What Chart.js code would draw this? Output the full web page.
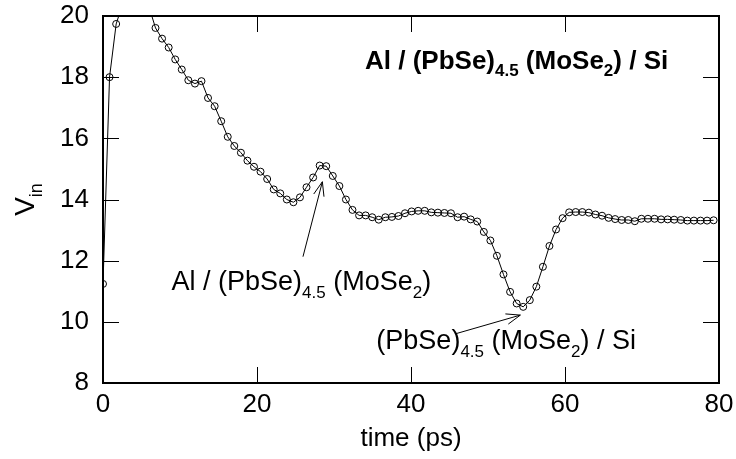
<!doctype html>
<html lang="en">
<head>
<meta charset="utf-8">
<title>Vin vs time</title>
<script src="https://cdn.jsdelivr.net/npm/chart.js"></script>
<style>
  html, body { margin: 0; padding: 0; background: #fff; }
  #wrap { width: 736px; height: 459px; }
</style>
</head>
<body>
<div id="wrap"><canvas id="chart"></canvas></div>
<script>
// time (ps) and V_in
var time = [0, 0.85, 1.71, 2.56, 3.41, 4.26, 5.12, 5.97, 6.82, 7.67,
            8.53, 9.38, 10.23, 11.08, 11.94, 12.79, 13.64, 14.50, 15.35, 16.20,
            17.05, 17.91, 18.76, 19.61, 20.46, 21.32, 22.17, 23.02, 23.87, 24.73,
            25.58, 26.43, 27.29, 28.14, 28.99, 29.84, 30.70, 31.55, 32.40, 33.26,
            34.11, 34.96, 35.81, 36.67, 37.52, 38.37, 39.22, 40.08, 40.93, 41.78,
            42.64, 43.49, 44.34, 45.19, 46.05, 46.90, 47.75, 48.60, 49.46, 50.31,
            51.16, 52.01, 52.87, 53.72, 54.57, 55.43, 56.28, 57.13, 57.98, 58.84,
            59.69, 60.54, 61.39, 62.25, 63.10, 63.95, 64.81, 65.66, 66.51, 67.36,
            68.22, 69.07, 69.92, 70.77, 71.63, 72.48, 73.33, 74.18, 75.04, 75.89,
            76.74, 77.60, 78.45, 79.30];
var vin = [11.24, 18.00, 19.74, 20.4, 20.8, 20.9, 20.7, 20.3, 19.61, 19.26,
           18.97, 18.58, 18.25, 17.90, 17.79, 17.87, 17.32, 17.05, 16.56, 16.05,
           15.75, 15.53, 15.27, 15.07, 14.91, 14.67, 14.33, 14.20, 14.00, 13.91,
           14.07, 14.40, 14.72, 15.11, 15.09, 14.77, 14.44, 14.00, 13.66, 13.48,
           13.48, 13.42, 13.34, 13.42, 13.43, 13.46, 13.55, 13.61, 13.63, 13.63,
           13.58, 13.57, 13.56, 13.55, 13.42, 13.44, 13.35, 13.28, 12.94, 12.66,
           12.16, 11.55, 10.98, 10.60, 10.49, 10.71, 11.15, 11.80, 12.48, 13.02,
           13.39, 13.58, 13.59, 13.59, 13.57, 13.51, 13.47, 13.40, 13.36, 13.33,
           13.33, 13.29, 13.37, 13.37, 13.37, 13.35, 13.35, 13.34, 13.33, 13.31,
           13.31, 13.31, 13.31, 13.32];

var xTicks = [0, 20, 40, 60, 80];
var yTicks = [8, 10, 12, 14, 16, 18, 20];

var FONT = "'Liberation Sans', Arial, Helvetica, sans-serif";

var points = time.map(function (t, i) { return {x: t, y: vin[i]}; });

// draw text with subscripts: parts = [[text, isSub], ...]
function richText(ctx, x, y, parts, size, bold, align) {
    var w = bold ? 'bold ' : '';
    var sub = Math.round(size * 0.64);
    var total = 0;
    parts.forEach(function (p) {
        ctx.font = w + (p[1] ? sub : size) + 'px ' + FONT;
        total += ctx.measureText(p[0]).width;
    });
    var cx = x;
    if (align === 'center') cx = x - total / 2;
    if (align === 'right') cx = x - total;
    ctx.textAlign = 'left';
    ctx.textBaseline = 'alphabetic';
    parts.forEach(function (p) {
        ctx.font = w + (p[1] ? sub : size) + 'px ' + FONT;
        ctx.fillText(p[0], cx, y + (p[1] ? size * 0.28 : 0));
        cx += ctx.measureText(p[0]).width;
    });
}

function arrow(ctx, x0, y0, x1, y1) {
    var a = Math.atan2(y1 - y0, x1 - x0);
    var L = 15, s = 0.36;
    ctx.beginPath();
    ctx.moveTo(x0, y0);
    ctx.lineTo(x1, y1);
    ctx.moveTo(x1 - L * Math.cos(a - s), y1 - L * Math.sin(a - s));
    ctx.lineTo(x1, y1);
    ctx.lineTo(x1 - L * Math.cos(a + s), y1 - L * Math.sin(a + s));
    ctx.stroke();
}

var frame = {
    id: 'frame',
    afterDraw: function (chart) {
        var ctx = chart.ctx, a = chart.chartArea;
        var xs = chart.scales.x, ys = chart.scales.y;
        ctx.save();
        ctx.strokeStyle = '#000';
        ctx.fillStyle = '#000';
        ctx.lineWidth = 1;
        // inward ticks on all four sides
        var tl = 16;
        ctx.beginPath();
        xTicks.forEach(function (v) {
            var px = Math.round(xs.getPixelForValue(v)) + 0.5;
            ctx.moveTo(px, a.bottom); ctx.lineTo(px, a.bottom - tl);
            ctx.moveTo(px, a.top); ctx.lineTo(px, a.top + tl);
        });
        yTicks.forEach(function (v) {
            var py = Math.round(ys.getPixelForValue(v)) + 0.5;
            ctx.moveTo(a.left, py); ctx.lineTo(a.left + tl, py);
            ctx.moveTo(a.right, py); ctx.lineTo(a.right - tl, py);
        });
        ctx.stroke();
        ctx.lineWidth = 2;
        ctx.strokeRect(a.left, a.top, a.right - a.left, a.bottom - a.top);

        // axis titles
        ctx.font = '26px ' + FONT;
        ctx.textAlign = 'center';
        ctx.textBaseline = 'alphabetic';
        ctx.fillText('time (ps)', (a.left + a.right) / 2, 446);
        ctx.save();
        ctx.translate(34, (a.top + a.bottom) / 2);
        ctx.rotate(-Math.PI / 2);
        richText(ctx, 0, 0, [['V', false], ['in', true]], 28, false, 'center');
        ctx.restore();

        // labels and arrows
        richText(ctx, 365, 69, [['Al / (PbSe)', false], ['4.5', true], [' (MoSe', false], ['2', true], [') / Si', false]], 26, true, 'left');
        richText(ctx, xs.getPixelForValue(8.9), ys.getPixelForValue(11.04),
            [['Al / (PbSe)', false], ['4.5', true], [' (MoSe', false], ['2', true], [')', false]], 27, false, 'left');
        richText(ctx, xs.getPixelForValue(35.5), ys.getPixelForValue(9.1),
            [['(PbSe)', false], ['4.5', true], [' (MoSe', false], ['2', true], [') / Si', false]], 27, false, 'left');
        ctx.lineWidth = 1;
        arrow(ctx, xs.getPixelForValue(25.97), ys.getPixelForValue(12.13),
                   xs.getPixelForValue(28.49), ys.getPixelForValue(14.58));
        arrow(ctx, xs.getPixelForValue(45.8), ys.getPixelForValue(9.61),
                   xs.getPixelForValue(54.2), ys.getPixelForValue(10.22));
        ctx.restore();
    }
};

function noOverflow(s) {
    s.paddingTop = 0; s.paddingBottom = 0;
    s.paddingLeft = 0; s.paddingRight = 0;
}

var ctx = document.getElementById('chart').getContext('2d');
var chart = new Chart(ctx, {
    type: 'scatter',
    data: {
        datasets: [{
            data: points,
            showLine: true,
            borderColor: '#000',
            borderWidth: 1,
            pointStyle: 'circle',
            pointRadius: 3.5,
            pointBorderWidth: 1,
            pointBorderColor: '#000',
            pointBackgroundColor: 'rgba(0,0,0,0)',
            tension: 0
        }]
    },
    options: {
        responsive: true,
        maintainAspectRatio: false,
        animation: false,
        layout: { padding: { left: 0, top: 16, right: 17, bottom: 0 } },
        plugins: { legend: { display: false }, tooltip: { enabled: false } },
        scales: {
            x: {
                type: 'linear', min: 0, max: 80,
                grid: { display: false, drawTicks: false },
                border: { display: false },
                afterBuildTicks: function (s) { s.ticks = xTicks.map(function (v) { return {value: v}; }); },
                afterFit: function (s) { s.height = 76; noOverflow(s); },
                ticks: { color: '#000', padding: 6, font: { family: FONT, size: 26 }, maxRotation: 0 }
            },
            y: {
                min: 8, max: 20,
                grid: { display: false, drawTicks: false },
                border: { display: false },
                afterBuildTicks: function (s) { s.ticks = yTicks.map(function (v) { return {value: v}; }); },
                afterFit: function (s) { s.width = 103; noOverflow(s); },
                ticks: { color: '#000', padding: 14, font: { family: FONT, size: 26 } }
            }
        }
    },
    plugins: [frame]
});
</script>
</body>
</html>
